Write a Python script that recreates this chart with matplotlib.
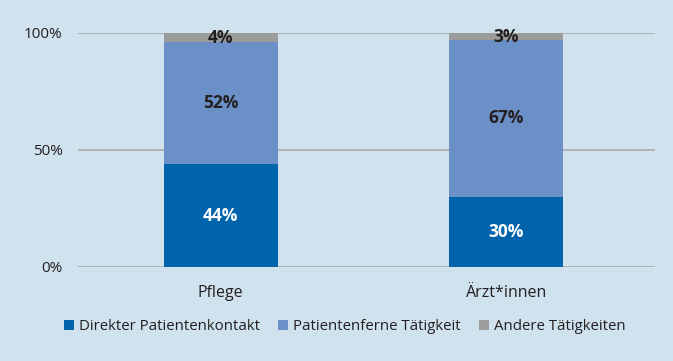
import matplotlib
matplotlib.use("Agg")
import matplotlib.pyplot as plt
import numpy as np

categories = ["Pflege", "Ärzt*innen"]
series_names = ["Direkter Patientenkontakt", "Patientenferne Tätigkeit", "Andere Tätigkeiten"]
direkt = [44, 30]
fern = [52, 67]
andere = [4, 3]
yticks = [0, 50, 100]
ytick_labels = ["0%", "50%", "100%"]

colors = ["#0064AD", "#6B90C8", "#9C9C9C"]
bg = "#D0E2EE"
plt.rcParams['font.family'] = ['Open Sans', 'DejaVu Sans']

fig = plt.figure(figsize=(6.73, 3.61), dpi=100, facecolor=bg)
ax = fig.add_axes([0.1159, 0.2604, 0.973 - 0.1159, 0.9086 - 0.2604])
ax.set_facecolor(bg)

x = np.arange(len(categories))
w = 0.40
bottom = np.zeros(len(categories))
text_colors = ["white", "#231F20", "#231F20"]
for vals, name, c, tc in zip([direkt, fern, andere], series_names, colors, text_colors):
    vals = np.array(vals, dtype=float)
    ax.bar(x, vals, w, bottom=bottom, color=c, label=name, zorder=3)
    for xi, b, v in zip(x, bottom, vals):
        ax.text(xi, b + v / 2, f"{int(v)}%", ha="center", va="center",
                color=tc, fontsize=12.5, fontweight="bold", zorder=4)
    bottom += vals

ax.set_xlim(-0.5, 1.52)
ax.set_ylim(0, 100)
ax.set_yticks(yticks)
ax.set_yticklabels(ytick_labels, fontsize=11, color="#231F20")
ax.set_xticks(x)
ax.set_xticklabels(categories, fontsize=11.5, color="#231F20")
ax.tick_params(axis="both", length=0)
ax.tick_params(axis="y", pad=11)
ax.tick_params(axis="x", pad=13)
for s in ax.spines.values():
    s.set_visible(False)
ax.grid(axis="y", color="#ABABAB", linewidth=1.2, zorder=0)
ax.set_axisbelow(True)

leg = fig.legend(loc="center", bbox_to_anchor=(0.512, 0.095), ncol=3, frameon=False,
                 fontsize=10.8, handlelength=0.7, handleheight=0.7, handletextpad=0.3,
                 columnspacing=1.2)
for t in leg.get_texts():
    t.set_color("#231F20")

fig.savefig("out.png", dpi=100, facecolor=bg)
